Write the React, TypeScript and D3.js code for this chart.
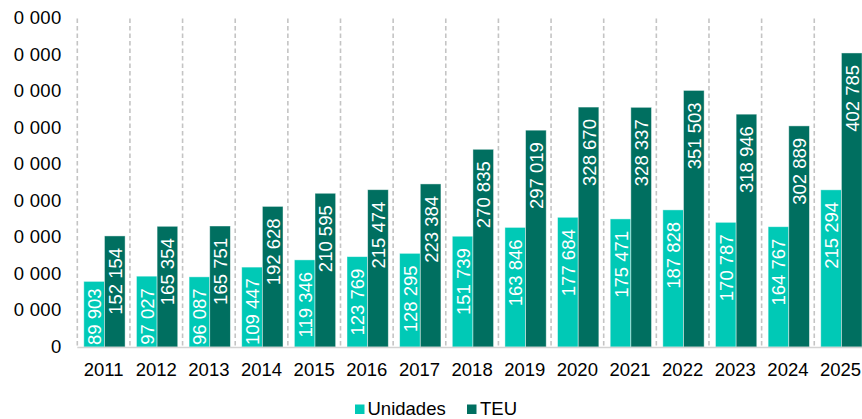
import React from "react";
import * as d3 from "d3";

const years = ["2011","2012","2013","2014","2015","2016","2017","2018","2019","2020","2021","2022","2023","2024","2025"];
const unidades = [89903, 97027, 96087, 109447, 119346, 123769, 128295, 151739, 163846, 177684, 175471, 187828, 170787, 164767, 215294];
const teu = [152154, 165354, 165751, 192628, 210595, 215474, 223384, 270835, 297019, 328670, 328337, 351503, 318946, 302889, 402785];
const seriesNames = ["Unidades", "TEU"];
const seriesColors = ["#00C9B6", "#006F60"];
const yTicks = [0, 50000, 100000, 150000, 200000, 250000, 300000, 350000, 400000, 450000];
// tick labels as visible in the (left-cropped) reference
const yTickLabels = ["0", "0 000", "0 000", "0 000", "0 000", "0 000", "0 000", "0 000", "0 000", "0 000"];

const W = 862, H = 419;
const FS = 18.5;
const FONT = "'Liberation Sans', Arial, sans-serif";

const fmt = (v: number) => {
  const s = String(Math.round(v));
  return s.replace(/\B(?=(\d{3})+(?!\d))/g, " ");
};
const textLen = (s: string) => {
  let l = 0;
  for (const c of s) l += c === " " ? 0.278 * FS : 0.556 * FS;
  return l;
};

export default function App() {
  const y = d3.scaleLinear().domain([0, 450000]).range([347, 18.5]);
  const bandW = 52.64;
  const x0 = 77.3;
  const x = d3.scaleBand<string>().domain(years).range([x0, x0 + bandW * years.length]).padding(0);
  const xi = d3.scaleBand<string>().domain(seriesNames).range([6.5, 47.8]).padding(0);
  const data = [unidades, teu];

  return (
    <div style={{ position: "fixed", left: 0, top: 0 }}>
      <svg width={W} height={H} style={{ display: "block", background: "#fff" }} fontFamily={FONT}>
        {/* dashed separators */}
        {years.map((yr) => (
          <line key={"d" + yr} x1={x(yr)!} x2={x(yr)!} y1={y(450000)} y2={y(0)}
            stroke="#C4C4C4" strokeWidth={1.6} strokeDasharray="4.5,3" />
        ))}
        {/* bars */}
        {years.map((yr, i) =>
          seriesNames.map((s, si) => {
            const v = data[si][i];
            const bx = x(yr)! + xi(s)!;
            const bw = xi.bandwidth();
            const top = y(v);
            const label = fmt(v);
            const L = textLen(label);
            const anchor = Math.min(top + 12, 345 - L);
            return (
              <g key={yr + s}>
                <rect x={bx} y={top} width={bw} height={y(0) - top} fill={seriesColors[si]}
                  stroke="rgba(255,255,255,0.55)" strokeWidth={0.8} />
                <text transform={`translate(${bx + bw / 2 + 0.5},${anchor}) rotate(-90)`}
                  textAnchor="end" dominantBaseline="central" fill="#fff" fontSize={FS}>
                  {label}
                </text>
              </g>
            );
          })
        )}
        {/* axis line */}
        <line x1={x0} x2={W} y1={347.5} y2={347.5} stroke="#D3D3D3" strokeWidth={1.6} />
        {/* y labels */}
        {yTicks.map((t, i) => (
          <text key={"y" + t} x={61.5} y={y(t) + 5.5} textAnchor="end" fontSize={FS} fill="#000"
            letterSpacing={0.3}>
            {yTickLabels[i]}
          </text>
        ))}
        {/* x labels */}
        {years.map((yr) => (
          <text key={"x" + yr} x={x(yr)! + bandW / 2} y={376} textAnchor="middle" fontSize={FS} fill="#000">
            {yr}
          </text>
        ))}
        {/* legend */}
        <rect x={355} y={404.5} width={9.5} height={9.5} fill={seriesColors[0]} />
        <text x={367.5} y={415} fontSize={FS} fill="#000">{seriesNames[0]}</text>
        <rect x={467} y={404.5} width={9.5} height={9.5} fill={seriesColors[1]} />
        <text x={480} y={415} fontSize={FS} fill="#000">{seriesNames[1]}</text>
      </svg>
    </div>
  );
}
